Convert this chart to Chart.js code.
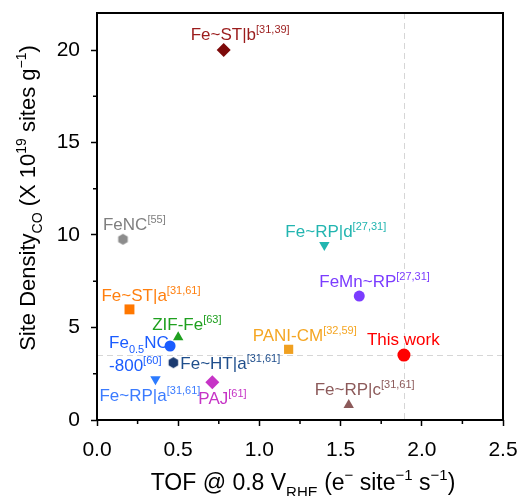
<!DOCTYPE html>
<html>
<head>
<meta charset="utf-8">
<script src="https://cdn.jsdelivr.net/npm/chart.js@4.4.1/dist/chart.umd.min.js"></script>
<style>
  html, body { margin: 0; padding: 0; background: #fff; }
  #wrap { width: 518px; height: 496px; position: relative; }
</style>
</head>
<body>
<div id="wrap"><canvas id="tofChart"></canvas></div>
<script>
// ===============================
// DATA
// ===============================
const catalysts = ['Fe~ST|b', 'FeNC', 'Fe~ST|a', 'ZIF-Fe', 'Fe0.5NC-800', 'Fe~HT|a',
                   'Fe~RP|a', 'PAJ', 'PANI-CM', 'Fe~RP|d', 'FeMn~RP', 'This work', 'Fe~RP|c'];
const tofValues = [0.78, 0.16, 0.20, 0.50, 0.45, 0.47, 0.36, 0.71, 1.18, 1.40, 1.615, 1.89, 1.55];
const siteDensity = [20.0, 9.77, 5.98, 4.47, 4.0, 3.10, 2.20, 2.04, 3.82, 9.46, 6.70, 3.51, 0.81];
// rich text: ^{..} superscript, _{..} subscript, \n new line
const labelText = ['Fe~ST|b^{[31,39]}', 'FeNC^{[55]}', 'Fe~ST|a^{[31,61]}', 'ZIF-Fe^{[63]}',
                   'Fe_{0.5}NC\n-800^{[60]}', 'Fe~HT|a^{[31,61]}', 'Fe~RP|a^{[31,61]}', 'PAJ^{[61]}',
                   'PANI-CM^{[32,59]}', 'Fe~RP|d^{[27,31]}', 'FeMn~RP^{[27,31]}', 'This work', 'Fe~RP|c^{[31,61]}'];
const xTicks = [0, 0.5, 1.0, 1.5, 2.0, 2.5];
const yTicks = [0, 5, 10, 15, 20];
const refTof = 1.89;      // dashed guide lines through "This work"
const refDensity = 3.51;

// ===============================
// STYLE
// ===============================
const FONT = "'Liberation Sans', Arial, sans-serif";

function hexagon(r, color) {
    const c = document.createElement('canvas');
    c.width = c.height = Math.ceil(r * 2 + 2);
    const g = c.getContext('2d');
    const m = c.width / 2;
    g.fillStyle = color;
    g.beginPath();
    for (let i = 0; i < 6; i++) {
        const a = Math.PI / 6 + i * Math.PI / 3;
        const px = m + r * Math.cos(a), py = m + r * Math.sin(a);
        i ? g.lineTo(px, py) : g.moveTo(px, py);
    }
    g.closePath();
    g.fill();
    return c;
}

const markerColors = ['#7d0a0a', '#8c8c8c', '#ff7700', '#1fa01f', '#1a5cff', '#1b3a70',
                      '#2c7bff', '#c634c6', '#f0a020', '#22b5b0', '#7b3cff', '#ff0000', '#8c5a5a'];
const labelColors = ['#9b1c1c', '#7f7f7f', '#ff7f0e', '#1fa01f', '#1a5cff', '#1f4e8c',
                     '#3a7bff', '#c634c6', '#f5a623', '#22b5b0', '#7b3cff', '#ff0000', '#8c5a5a'];
const markerStyles = ['rectRot', hexagon(5.5, markerColors[1]), 'rect', 'triangle', 'circle',
                      hexagon(5.5, markerColors[5]), 'triangle', 'rectRot', 'rect', 'triangle',
                      'circle', 'circle', 'triangle'];
const markerRotation = [0, 0, 0, 0, 0, 0, 180, 0, 0, 180, 0, 0, 0];
const markerRadius = [7, 5.5, 7, 6, 5.5, 5.5, 6, 7, 6.5, 6, 5.5, 6.5, 6];
// label anchor (left, baseline) relative to the marker, px
const labelOffsets = [[-33, -10], [-20, -9], [-28, -8], [-26, -7], [-61, 2], [7, 6],
                      [-56, 22], [-14, 22], [-36, -8], [-39, -8], [-40, -9], [-37, -10], [-34, -10]];

// ===============================
// RICH TEXT HELPERS
// ===============================
function parseRich(str) {
    const parts = [];
    const re = /(\^\{[^}]*\}|_\{[^}]*\})/g;
    let last = 0, m;
    while ((m = re.exec(str))) {
        if (m.index > last) parts.push({ t: str.slice(last, m.index), k: 'n' });
        parts.push({ t: m[0].slice(2, -1), k: m[0][0] === '^' ? 'sup' : 'sub' });
        last = re.lastIndex;
    }
    if (last < str.length) parts.push({ t: str.slice(last), k: 'n' });
    return parts;
}

function segFont(k, size) {
    return (k === 'n' ? size : Math.round(size * 0.64)) + 'px ' + FONT;
}

function measureRich(ctx, str, size) {
    let w = 0;
    parseRich(str).forEach(p => { ctx.font = segFont(p.k, size); w += ctx.measureText(p.t).width; });
    return w;
}

function drawRich(ctx, str, x, y, size, color) {
    ctx.fillStyle = color;
    ctx.textAlign = 'left';
    ctx.textBaseline = 'alphabetic';
    parseRich(str).forEach(p => {
        ctx.font = segFont(p.k, size);
        const dy = p.k === 'sup' ? -size * 0.42 : p.k === 'sub' ? size * 0.3 : 0;
        ctx.fillText(p.t, x, y + dy);
        x += ctx.measureText(p.t).width;
    });
}

// ===============================
// PLUGIN: frame, minor ticks, guides, labels, axis titles
// ===============================
const decorPlugin = {
    id: 'decor',
    beforeDatasetsDraw(chart) {
        const { ctx, chartArea: a, scales: { x, y } } = chart;
        ctx.save();
        ctx.strokeStyle = '#d6d6d6';
        ctx.lineWidth = 1;
        ctx.setLineDash([6, 4]);
        const gx = Math.round(x.getPixelForValue(refTof)) + 0.5;
        const gy = Math.round(y.getPixelForValue(refDensity)) + 0.5;
        ctx.beginPath();
        ctx.moveTo(gx, a.top); ctx.lineTo(gx, a.bottom);
        ctx.moveTo(a.left, gy); ctx.lineTo(a.right, gy);
        ctx.stroke();
        ctx.restore();
    },
    afterDatasetsDraw(chart) {
        const { ctx, scales: { x, y } } = chart;
        ctx.save();
        catalysts.forEach((name, i) => {
            const px = x.getPixelForValue(tofValues[i]);
            const py = y.getPixelForValue(siteDensity[i]);
            const [dx, dy] = labelOffsets[i];
            labelText[i].split('\n').forEach((line, j) => {
                drawRich(ctx, line, px + dx, py + dy + j * 23, 17, labelColors[i]);
            });
        });
        ctx.restore();
    },
    afterDraw(chart) {
        const { ctx, chartArea: a, scales: { x, y } } = chart;
        ctx.save();
        // minor ticks
        ctx.strokeStyle = '#000';
        ctx.lineWidth = 1.5;
        ctx.beginPath();
        for (let v = 0.25; v < 2.5; v += 0.5) {
            const px = x.getPixelForValue(v);
            ctx.moveTo(px, a.bottom); ctx.lineTo(px, a.bottom + 4);
        }
        for (let v = 2.5; v < 22; v += 5) {
            const py = y.getPixelForValue(v);
            ctx.moveTo(a.left, py); ctx.lineTo(a.left - 4, py);
        }
        ctx.stroke();
        // frame
        ctx.lineWidth = 2;
        ctx.strokeRect(a.left, a.top, a.right - a.left, a.bottom - a.top);

        // axis titles
        const xt = 'TOF @ 0.8 V_{RHE} (e^{\u2212} site^{\u22121} s^{\u22121})';
        const xw = measureRich(ctx, xt, 23);
        drawRich(ctx, xt, 303 - xw / 2, 490, 23, '#000');

        const yt = 'Site Density_{CO} (X 10^{19} sites g^{\u22121})';
        const yw = measureRich(ctx, yt, 22);
        ctx.translate(35, 198);
        ctx.rotate(-Math.PI / 2);
        drawRich(ctx, yt, -yw / 2, 0, 22, '#000');
        ctx.restore();
    }
};

// ===============================
// CHART
// ===============================
const ctx = document.getElementById('tofChart').getContext('2d');

new Chart(ctx, {
    type: 'scatter',
    data: {
        datasets: [{
            label: 'catalysts',
            data: catalysts.map((n, i) => ({ x: tofValues[i], y: siteDensity[i] })),
            pointStyle: markerStyles,
            pointRotation: markerRotation,
            pointRadius: markerRadius,
            pointHoverRadius: markerRadius,
            pointBackgroundColor: markerColors,
            pointBorderColor: markerColors,
            pointBorderWidth: 0
        }]
    },
    options: {
        responsive: true,
        maintainAspectRatio: false,
        animation: false,
        layout: { padding: { top: 13, right: 15, left: 0, bottom: 0 } },
        plugins: { legend: { display: false }, tooltip: { enabled: false } },
        scales: {
            x: {
                type: 'linear',
                min: 0, max: 2.5,
                afterFit: s => { s.height = 76; s.paddingLeft = 0; s.paddingRight = 0; },
                afterBuildTicks: s => { s.ticks = xTicks.map(v => ({ value: v })); },
                grid: { drawOnChartArea: false, drawTicks: true, tickLength: 6, tickWidth: 1.5, tickColor: '#000' },
                border: { display: false },
                ticks: {
                    padding: 12,
                    color: '#000',
                    font: { size: 21, family: FONT },
                    maxRotation: 0,
                    callback: v => v.toFixed(1)
                }
            },
            y: {
                type: 'linear',
                min: 0, max: 22,
                afterFit: s => { s.width = 97; s.paddingTop = 0; s.paddingBottom = 0; },
                afterBuildTicks: s => { s.ticks = yTicks.map(v => ({ value: v })); },
                grid: { drawOnChartArea: false, drawTicks: true, tickLength: 6, tickWidth: 1.5, tickColor: '#000' },
                border: { display: false },
                ticks: {
                    padding: 11,
                    color: '#000',
                    font: { size: 21, family: FONT },
                    callback: v => String(v)
                }
            }
        }
    },
    plugins: [decorPlugin]
});
</script>
</body>
</html>
